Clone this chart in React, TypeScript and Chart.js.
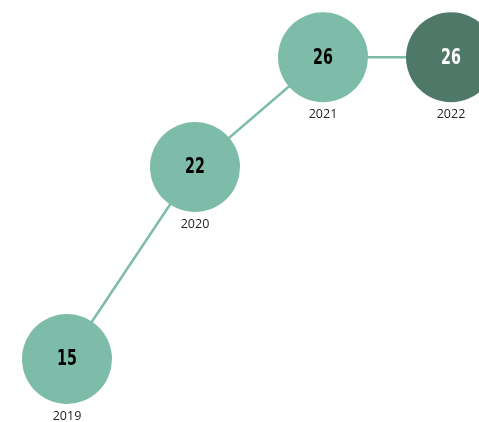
import React, { useEffect, useRef } from "react";
import { Chart, registerables } from "chart.js";

Chart.register(...registerables);

const years = ["2019", "2020", "2021", "2022"];
const values = [15, 22, 26, 26];
const pointColors = ["#7DBCA8", "#7DBCA8", "#7DBCA8", "#4E7868"];
const valueTextColors = ["#000000", "#000000", "#000000", "#FFFFFF"];

const labelPlugin = {
  id: "bubbleLabels",
  afterDatasetsDraw(chart: any) {
    const ctx = chart.ctx;
    const meta = chart.getDatasetMeta(0);
    meta.data.forEach((pt: any, i: number) => {
      ctx.save();
      ctx.textAlign = "center";
      ctx.textBaseline = "middle";
      ctx.fillStyle = valueTextColors[i];
      ctx.font = "bold 21px 'DejaVu Sans', sans-serif";
      ctx.translate(pt.x, pt.y + 1);
      ctx.scale(0.68, 1);
      ctx.fillText(String(values[i]), 0, 0);
      ctx.restore();
      ctx.save();
      ctx.textAlign = "center";
      ctx.textBaseline = "middle";
      ctx.fillStyle = "#252423";
      ctx.font = "12.5px 'Open Sans', sans-serif";
      ctx.fillText(years[i], pt.x, pt.y + 57);
      ctx.restore();
    });
  },
};

export default function App() {
  const ref = useRef<HTMLCanvasElement>(null);
  useEffect(() => {
    if (!ref.current) return;
    const chart = new Chart(ref.current, {
      type: "line",
      data: {
        labels: years,
        datasets: [
          {
            data: values.map((v, i) => ({ x: i, y: v })),
            borderColor: "#7DBCA8",
            borderWidth: 2.5,
            pointRadius: 45,
            pointHoverRadius: 45,
            pointBackgroundColor: pointColors,
            pointBorderWidth: 0,
            pointBorderColor: pointColors,
            clip: false as any,
            tension: 0,
          },
        ],
      },
      options: {
        animation: false,
        responsive: false,
        maintainAspectRatio: false,
        layout: { padding: 0, autoPadding: false },
        plugins: { legend: { display: false }, tooltip: { enabled: false } },
        events: [],
        scales: {
          x: { type: "linear", display: false, min: -67 / 128, max: 412 / 128 },
          y: { type: "linear", display: false, min: 15 - 63 / 27.43, max: 15 + 359 / 27.43 },
        },
      },
      plugins: [labelPlugin],
    });
    return () => chart.destroy();
  }, []);
  return (
    <div style={{ position: "fixed", left: 0, top: 0, width: 479, height: 422, background: "#fff" }}>
      <canvas ref={ref} width={479} height={422} style={{ display: "block" }} />
    </div>
  );
}
